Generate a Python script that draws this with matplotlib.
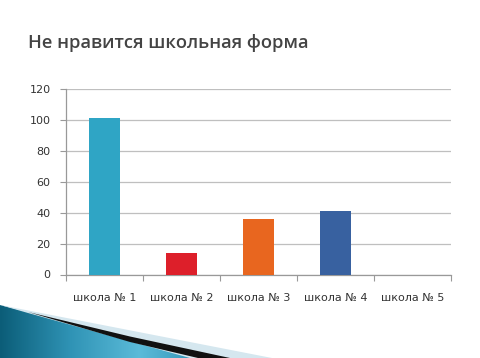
import numpy as np
import matplotlib
matplotlib.use('Agg')
import matplotlib.pyplot as plt
from matplotlib.patches import Polygon
from matplotlib.colors import LinearSegmentedColormap

# данные
categories = ['школа № 1', 'школа № 2', 'школа № 3', 'школа № 4', 'школа № 5']
values = [101, 14, 36, 41, 0]
colors = ['#2fa5c5', '#dd1f2a', '#e8661f', '#3861a0', '#808080']
yticks = [0, 20, 40, 60, 80, 100, 120]

W, H = 480, 358
fig = plt.figure(figsize=(W / 100, H / 100), dpi=100)
fig.patch.set_facecolor('white')

def px(pts):
    return [(x / W, 1 - y / H) for x, y in pts]

# декоративный уголок внизу слева
fig.add_artist(Polygon(px([(0, 305), (272, 358), (190, 358), (28, 313)]),
                       closed=True, facecolor='#d5e7ef', edgecolor='none',
                       transform=fig.transFigure))
teal = Polygon(px([(0, 305), (28, 312), (205, 358), (0, 358)]), closed=True,
               facecolor='none', edgecolor='none', transform=fig.transFigure)
fig.add_artist(teal)
bg = fig.add_axes([0, 0, 1, 1], zorder=-1)
bg.axis('off')
bg.set_xlim(0, 1)
bg.set_ylim(0, 1)
grad = np.linspace(0, 1, 256).reshape(1, -1)
cmap = LinearSegmentedColormap.from_list('t', ['#0b5d78', '#2f93b5', '#5bbbd9', '#2b8db0'])
im = bg.imshow(grad, extent=[0, 210 / W, 0, 1 - 304 / H], aspect='auto',
               cmap=cmap, zorder=1)
im.set_clip_path(teal)
fig.add_artist(Polygon(px([(28, 312), (130, 336.5), (230, 358), (198, 358),
                           (130, 342)]), closed=True,
                       facecolor='#111111', edgecolor='none',
                       transform=fig.transFigure))

# заголовок
fig.text(28 / W, 1 - 43 / H, 'Не нравится школьная форма', fontsize=13.2,
         color='#444444', family='Open Sans', weight='semibold',
         va='center', ha='left')

ax = fig.add_axes([66 / W, 1 - 274.5 / H, (451 - 66) / W, (274.5 - 88.5) / H])
x = np.arange(len(categories))
ax.bar(x, values, width=0.4, color=colors, zorder=3)
ax.set_xlim(-0.5, len(categories) - 0.5)
ax.set_ylim(0, 120)
ax.set_yticks(yticks)
ax.set_yticklabels([str(v) for v in yticks])
ax.yaxis.grid(True, color='#bfbfbf', linewidth=0.9, zorder=0)
ax.set_axisbelow(True)

ax.set_xticks(np.arange(-0.5, len(categories), 1.0))
ax.set_xticklabels([])
ax.set_xticks(x, minor=True)
ax.set_xticklabels(categories, minor=True)
ax.tick_params(axis='x', which='minor', length=0, pad=13, labelsize=8, labelcolor='#333333')
ax.tick_params(axis='x', which='major', length=4, color='#999999', direction='out')
ax.tick_params(axis='y', length=4, color='#999999', labelsize=8, labelcolor='#333333', pad=7)

for s in ['top', 'right']:
    ax.spines[s].set_visible(False)
for s in ['left', 'bottom']:
    ax.spines[s].set_color('#999999')
    ax.spines[s].set_linewidth(0.9)
ax.patch.set_alpha(0)

fig.savefig('out.png', dpi=100, facecolor='white')
